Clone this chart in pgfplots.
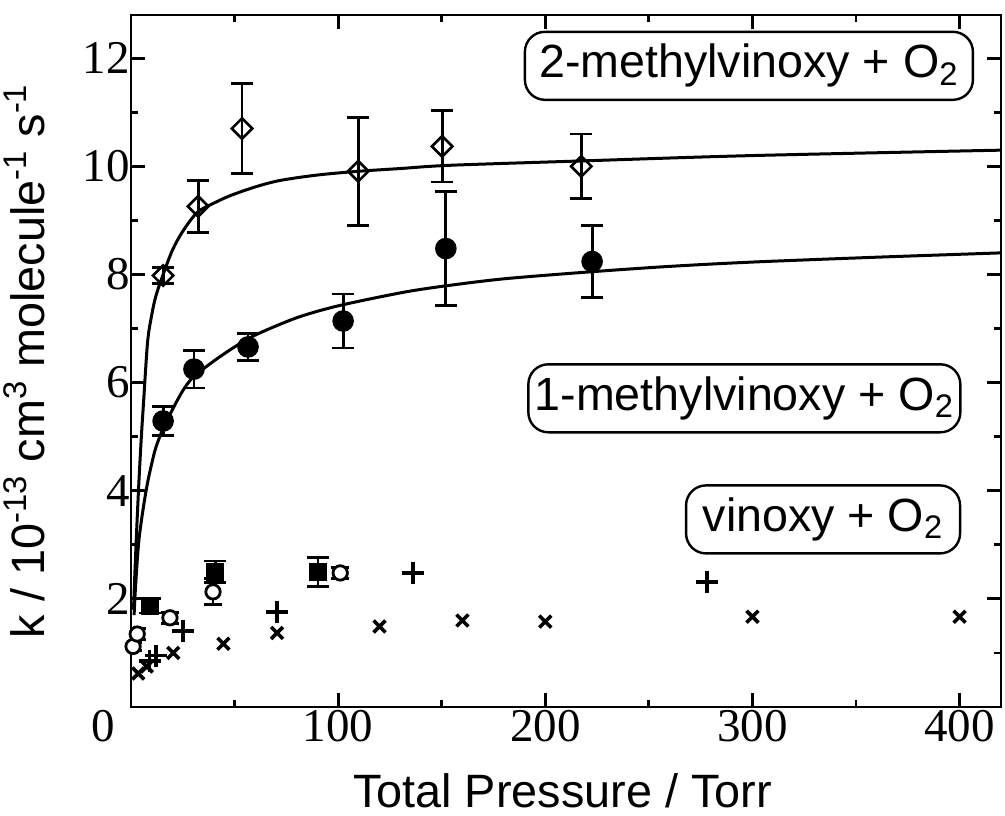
\documentclass[border=0pt]{standalone}
\usepackage{fontspec}
\setmainfont{Liberation Serif}
\newfontfamily\arial{Liberation Sans}
\usepackage{pgfplots}
\pgfplotsset{compat=1.18}

\begin{document}
\begin{tikzpicture}
\useasboundingbox (-65.5pt,-54pt) rectangle (437pt,353.5pt);
\begin{axis}[
    at={(0pt,0pt)}, anchor=south west,
    scale only axis, width=435pt, height=346pt,
    xmin=0, xmax=420, ymin=0, ymax=12.8,
    xtick={0,100,200,300,400},
    xticklabels={\makebox[0pt][r]{0\hspace{8pt}},100,200,300,400},
    ytick={2,4,...,12},
    minor xtick={50,150,250,350},
    minor ytick={1,3,...,11},
    tick align=inside,
    major tick length=7pt, minor tick length=3.5pt,
    axis line style={line width=1.4pt},
    every tick/.style={line width=1.4pt, black},
    /pgf/number format/assume math mode=true,
    tick label style={font=\fontsize{23.5}{28}\selectfont},
    xticklabel style={yshift=2pt},
    yticklabel style={xshift=3pt},
    label style={font=\arial\fontsize{23.4}{28}\selectfont},
    xlabel={Total Pressure / Torr},
    ylabel={k / 10\textsuperscript{-13} cm\textsuperscript{3} molecule\textsuperscript{-1} s\textsuperscript{-1}},
    xlabel style={at={(axis description cs:0.496,-0.145)}, anchor=base},
    ylabel style={at={(axis description cs:-0.0989,0.5)}, anchor=base},
    error bars/error bar style={line width=1.4pt},
    error bars/error mark options={rotate=90, line width=1.4pt, mark size=5.5pt},
]
% fitted curves
\addplot[black, line width=1.5pt, smooth, mark=none] coordinates {
 (1.2,1.8) (2,2.6) (3,3.5) (4,4.3) (5,5.0) (6,5.6) (8,6.75) (10,7.25)
 (12,7.6) (15.5,8.0) (20,8.45) (25,8.8) (32,9.15) (40,9.32) (48,9.46)
 (60,9.62) (72,9.74) (90,9.84) (110,9.91) (130,9.96) (154,10.02)
 (217,10.1) (300,10.2) (420,10.3)};
\addplot[black, line width=1.5pt, smooth, mark=none] coordinates {
 (1.5,1.7) (2,2.1) (3,2.7) (4,3.15) (6,3.7) (8,4.15) (10,4.5) (12,4.8)
 (15.5,5.15) (20,5.5) (25,5.85) (30,6.1) (40,6.4) (50,6.66) (60,6.88)
 (80,7.2) (100,7.42) (130,7.66) (150,7.78) (180,7.92) (222,8.05)
 (260,8.15) (300,8.23) (360,8.32) (420,8.4)};
% 2-methylvinoxy
\addplot[black, only marks, mark=square, mark size=3.6pt,
  mark options={rotate=45, fill=white, line width=1.3pt},
  error bars/.cd, y dir=both, y explicit]
 coordinates {
 (15.5,7.98) +- (0,0.15)
 (32.4,9.26) +- (0,0.48)
 (53.6,10.7) +- (0,0.83)
 (109.7,9.91) +- (0,1.0)
 (150.2,10.37) +- (0,0.66)
 (217.4,10.0) +- (0,0.6)};
% 1-methylvinoxy
\addplot[black, only marks, mark=*, mark size=5pt,
  mark options={line width=0.8pt},
  error bars/.cd, y dir=both, y explicit]
 coordinates {
 (15.5,5.29) +- (0,0.27)
 (30.4,6.25) +- (0,0.35)
 (56.5,6.66) +- (0,0.25)
 (102.4,7.14) +- (0,0.5)
 (152,8.48) +- (0,1.05)
 (222.6,8.24) +- (0,0.67)};
% vinoxy: filled squares
\addplot[black, only marks, mark=square*, mark size=4.2pt,
  error bars/.cd, y dir=both, y explicit]
 coordinates {
 (9.2,1.87) +- (0,0.13)
 (40.6,2.5) +- (0,0.2)
 (90.3,2.5) +- (0,0.27)};
% vinoxy: open circles
\addplot[black, only marks, mark=*, mark size=3.6pt,
  mark options={fill=white, line width=1.4pt},
  error bars/.cd, y dir=both, y explicit,
  error mark options={rotate=90, line width=1.4pt, mark size=4.5pt}]
 coordinates {
 (1,1.12) +- (0,0.08)
 (3,1.35) +- (0,0.1)
 (18.8,1.65) +- (0,0.1)
 (39.6,2.13) +- (0,0.24)
 (101,2.48) +- (0,0.1)};
% vinoxy: plus
\addplot[black, only marks, mark=+, mark size=5.5pt,
  mark options={line width=1.8pt}]
 coordinates {
 (9,0.85) (12,0.95) (25,1.41) (70.5,1.76) (136,2.48) (278,2.31)};
% vinoxy: cross
\addplot[black, only marks, mark=x, mark size=4.2pt,
  mark options={line width=1.8pt}]
 coordinates {
 (3.5,0.62) (7.6,0.75) (20.4,1.0) (44.6,1.17) (70.5,1.37) (120,1.49)
 (160,1.6) (200,1.58) (300,1.67) (400,1.67)};
% labels
\tikzset{lab/.style={draw, line width=1.2pt, rounded corners=10pt,
  minimum height=34pt, inner sep=0pt, fill=white,
  font=\arial\fontsize{23.3}{28}\selectfont}}
\node[lab, minimum width=224pt] at (axis cs:298.3,11.86) {2-methylvinoxy + O\textsubscript{2}};
\node[lab, minimum width=216pt] at (axis cs:296.1,5.71) {1-methylvinoxy + O\textsubscript{2}};
\node[lab, minimum width=137pt] at (axis cs:334.1,3.47) {vinoxy + O\textsubscript{2}};
\end{axis}
\end{tikzpicture}
\end{document}
